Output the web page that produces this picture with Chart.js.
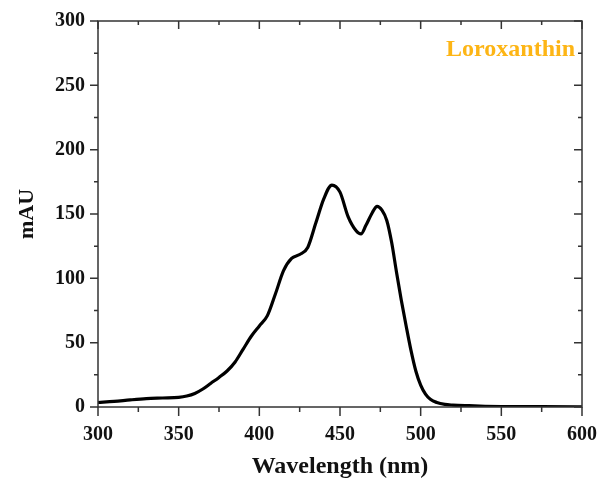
<!DOCTYPE html>
<html>
<head>
<meta charset="utf-8">
<script src="https://cdn.jsdelivr.net/npm/chart.js@4"></script>
<style>
  html, body { margin: 0; padding: 0; background: #fff; }
  #wrap { width: 598px; height: 481px; }
</style>
</head>
<body>
<div id="wrap"><canvas id="line-chart" width="598" height="481"></canvas></div>
<script>
// wavelength (nm) and absorbance (mAU)
const wavelengths = [300,310,320,330,340,350,355,360,365,370,375,380,385,390,395,400,405,410,415,420,425,430,435,440,445,450,455,460,463,466,470,473,476,479,482,485,488,491,494,497,500,503,506,510,515,520,530,540,550,575,600];
const mAU = [3.5,4.3,5.5,6.5,7,7.5,8.5,10.5,14,18.5,23,28,35,45,55,63,71,88,106,115.5,118.5,124,143,162,172.5,167,148,137,134.5,141,151,156,153,145,128,105,83,63,44,28,17,10,6,3.5,2,1.5,1,0.6,0.4,0.3,0.2];
const compound = "Loroxanthin";
const xTicks = [300,350,400,450,500,550,600];
const yTicks = [0,50,100,150,200,250,300];

const serif = "'Liberation Serif', 'Times New Roman', serif";

// box frame with ticks: outward on left/bottom, inward on top/right
const framePlugin = {
  id: 'frame',
  afterDatasetsDraw(chart) {
    const {ctx, chartArea: a, scales: {x, y}} = chart;
    ctx.save();
    ctx.strokeStyle = '#333';
    ctx.lineWidth = 1.5;
    ctx.strokeRect(a.left, a.top, a.right - a.left, a.bottom - a.top);
    ctx.beginPath();
    for (let v = 300; v <= 600; v += 25) {
      const px = x.getPixelForValue(v);
      const major = v % 50 === 0;
      ctx.moveTo(px, a.bottom); ctx.lineTo(px, a.bottom + (major ? 9 : 5));
      ctx.moveTo(px, a.top); ctx.lineTo(px, a.top + (major ? 8 : 4));
    }
    for (let v = 0; v <= 300; v += 25) {
      const py = y.getPixelForValue(v);
      const major = v % 50 === 0;
      ctx.moveTo(a.left, py); ctx.lineTo(a.left - (major ? 8 : 4), py);
      ctx.moveTo(a.right, py); ctx.lineTo(a.right - (major ? 8 : 4), py);
    }
    ctx.stroke();
    // compound label
    ctx.fillStyle = '#FDB515';
    ctx.font = "bold 24px " + serif;
    ctx.textAlign = 'right';
    ctx.textBaseline = 'alphabetic';
    ctx.fillText(compound, a.right - 7, 56);
    ctx.restore();
  }
};

new Chart(document.getElementById("line-chart"), {
  type: 'line',
  data: {
    datasets: [{
      data: wavelengths.map((w, i) => ({x: w, y: mAU[i]})),
      borderColor: "#000",
      borderWidth: 3.2,
      pointRadius: 0,
      cubicInterpolationMode: 'monotone',
      fill: false
    }]
  },
  options: {
    responsive: false,
    animation: false,
    layout: { padding: { top: 21, right: 16, left: 0, bottom: 0 } },
    plugins: { legend: { display: false }, tooltip: { enabled: false } },
    scales: {
      x: {
        type: 'linear',
        min: 300, max: 600,
        afterFit(s) { s.height = 74; s.paddingLeft = 0; s.paddingRight = 0; },
        afterBuildTicks(s) { s.ticks = xTicks.map(v => ({value: v})); },
        grid: { display: false },
        border: { display: false },
        ticks: { color: '#111', padding: 8, font: { family: serif, size: 20, weight: 'bold' } },
        title: { display: true, text: 'Wavelength (nm)', color: '#111', padding: { bottom: 0 },
                 font: { family: serif, size: 24, weight: 'bold' } }
      },
      y: {
        min: 0, max: 300,
        afterFit(s) { s.width = 98; s.paddingTop = 0; s.paddingBottom = 0; },
        afterBuildTicks(s) { s.ticks = yTicks.map(v => ({value: v})); },
        grid: { display: false },
        border: { display: false },
        ticks: { color: '#111', padding: 5, font: { family: serif, size: 20, weight: 'bold' } },
        title: { display: true, text: 'mAU', color: '#111', padding: { top: 14 },
                 font: { family: serif, size: 22, weight: 'bold' } }
      }
    }
  },
  plugins: [framePlugin]
});
</script>
</body>
</html>
